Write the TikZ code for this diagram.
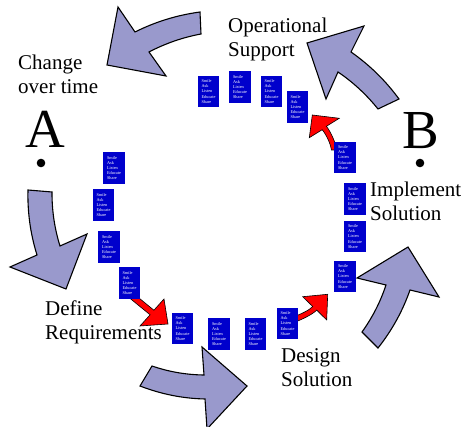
\documentclass[tikz,border=0pt]{standalone}
\usepackage{fontspec}
\setmainfont{Liberation Serif}
\definecolor{lav}{RGB}{153,153,204}
\definecolor{cardblue}{RGB}{0,0,204}
\newcommand\cardtext{Smile\\Ask\\Listen\\Educate\\Share}
\begin{document}
\begin{tikzpicture}[x=1pt,y=-1pt,
  bigarrow/.style={fill=lav, draw=black, line width=1.1pt, line join=miter},
  redarrow/.style={fill=red, draw=black, line width=0.6pt, line join=miter},
  card/.style={fill=cardblue, text=white, minimum width=21.5pt, minimum height=31.5pt,
    inner sep=0pt, align=left, font=\fontsize{4.3}{5.2}\selectfont},
  steplabel/.style={anchor=base west, inner sep=0pt, align=left,
    font=\fontsize{21}{24}\selectfont},
  bigletter/.style={anchor=base, inner sep=0pt, font=\fontsize{55}{55}\selectfont},
]
\fill[white] (0,0) rectangle (461,427);
\useasboundingbox (0,0) rectangle (461,427);

% large curved cycle arrows
\draw[bigarrow] (200,12) .. controls (177.2,15.1) and (155.6,21.7) .. (135,32)
  -- (118,7) -- (107,65) -- (166,76) -- (149,52)
  .. controls (165.4,43.4) and (182.8,37.4) .. (201,34) -- cycle;
\draw[bigarrow] (399,99) .. controls (385.6,80.7) and (369.6,65.0) .. (351,52)
  -- (364,26) -- (307,43) -- (326,99) -- (338,72)
  .. controls (353.2,82.3) and (366.5,94.7) .. (378,109) -- cycle;
\draw[bigarrow] (28,190) .. controls (27.4,212.2) and (30.4,233.8) .. (37,255)
  -- (10,267) -- (66,289) -- (87,234) -- (60,246)
  .. controls (54.5,228.4) and (51.9,210.4) .. (52,192) -- cycle;
\draw[bigarrow] (140,386) .. controls (160.9,394.1) and (182.6,398.5) .. (205,399)
  -- (207,429) -- (247,386) -- (202,347) -- (204,375)
  .. controls (186.2,374.8) and (168.8,371.8) .. (152,366) -- cycle;
\draw[bigarrow] (378,348) .. controls (391.9,330.5) and (402.6,311.1) .. (410,290)
  -- (439,297) -- (408,247) -- (357,278) -- (386,285)
  .. controls (380.4,301.9) and (372.4,317.5) .. (362,332) -- cycle;

% red block arrows between cards
\draw[redarrow] (132.6,292.8) -- (153.9,310.2) -- (164,299) -- (168,324)
  -- (140,326) -- (150.1,314.8) -- (128.8,297.4) -- cycle;
\draw[redarrow] (294,316.7) .. controls (301.6,313.7) and (309.3,310.2) .. (312.7,306.5)
  -- (302.7,296.7) -- (327.7,294.3) -- (326.7,320) -- (316.7,310.1)
  .. controls (313.3,313.8) and (303.7,318.7) .. (296,321.7) -- cycle;
\draw[redarrow] (331.4,150) .. controls (330.4,142.6) and (325.4,133.5) .. (322.2,129.7)
  -- (309.3,137.7) -- (312.3,115) -- (339.3,118.3) -- (326.4,126.3)
  .. controls (329.6,130.1) and (335.6,141.6) .. (336.6,150) -- cycle;

% cards around the cycle
\node[card] (c1)  at (208.5,91.5) {\cardtext};
\node[card] (c2)  at (240,87)     {\cardtext};
\node[card] (c3)  at (271.5,91.5) {\cardtext};
\node[card] (c4)  at (297.5,107)  {\cardtext};
\node[card] (c5)  at (345,157.5)  {\cardtext};
\node[card] (c6)  at (355,199)    {\cardtext};
\node[card] (c7)  at (355,236.5)  {\cardtext};
\node[card] (c8)  at (345,276.5)  {\cardtext};
\node[card] (c9)  at (287.5,323.5) {\cardtext};
\node[card] (c10) at (255.5,334)  {\cardtext};
\node[card] (c11) at (219,334)    {\cardtext};
\node[card] (c12) at (182.5,328.5) {\cardtext};
\node[card] (c13) at (129.5,283)  {\cardtext};
\node[card] (c14) at (109,247)    {\cardtext};
\node[card] (c15) at (103.5,205)  {\cardtext};
\node[card] (c16) at (114,168)    {\cardtext};

% phase labels (anchored at the baseline of their last line)
\node[steplabel] (change)  at (18,94)   {Change\\over time};
\node[steplabel] (ops)     at (228,57)  {Operational\\Support};
\node[steplabel] (impl)    at (370,221) {Implement\\Solution};
\node[steplabel] (define)  at (45,340)  {Define\\Requirements};
\node[steplabel] (design)  at (281,387) {Design\\Solution};

% end points A and B
\node[bigletter] (ltrA) at (45,148) {A};
\node[bigletter] (ltrB) at (421,149) {B};
\fill (41,163) circle (4.3);
\fill (420,163) circle (4.3);
\end{tikzpicture}
\end{document}
